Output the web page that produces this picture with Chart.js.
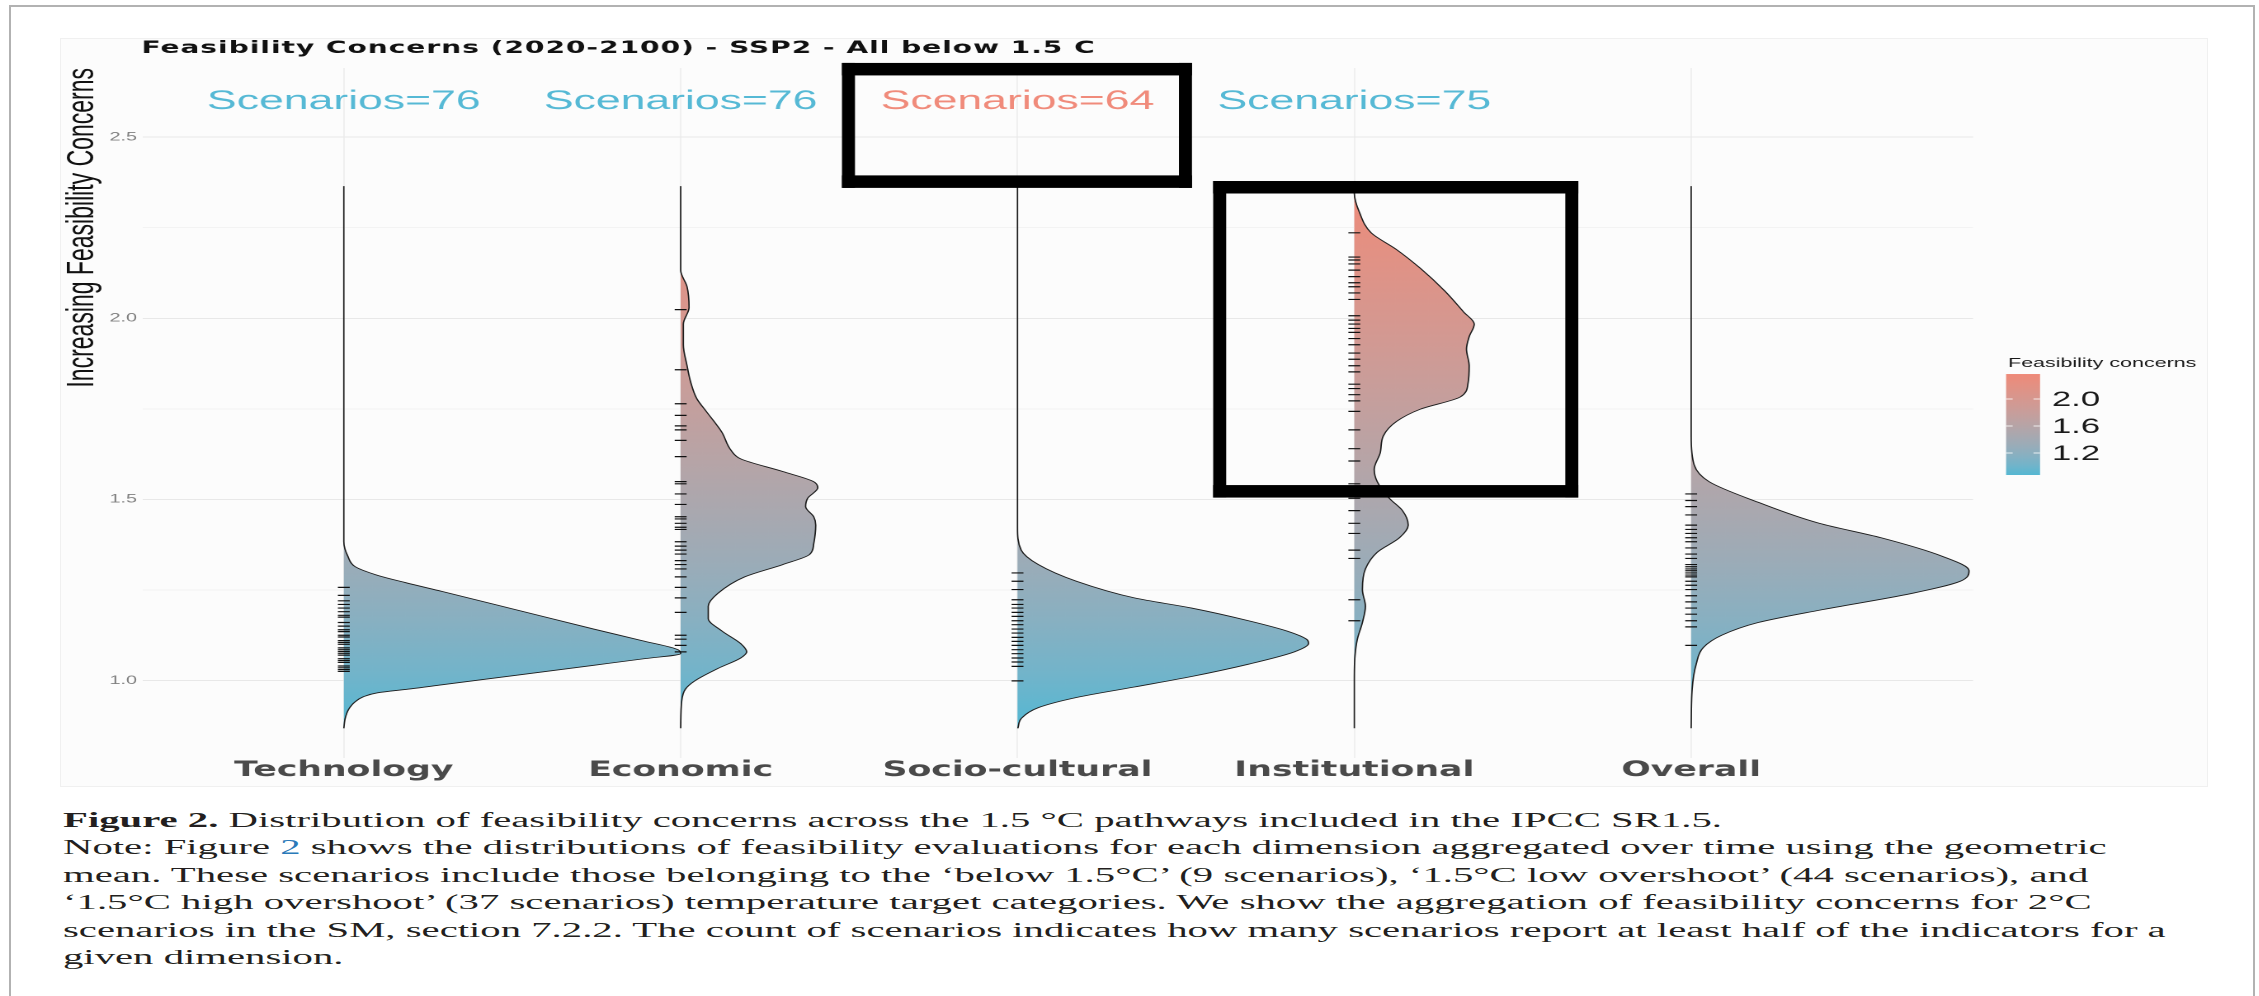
<!DOCTYPE html>
<html>
<head>
<meta charset="utf-8">
<script src="https://cdn.jsdelivr.net/npm/chart.js@4.4.0/dist/chart.umd.min.js"></script>
<style>
  html, body { margin: 0; padding: 0; background: #fff; }
  body { width: 2259px; height: 996px; position: relative; overflow: hidden; }
  #frame { position: absolute; left: 9px; top: 5px; width: 2246px; height: 1000px; border: 2px solid #b2b2b2; border-bottom: none; box-sizing: border-box; }
  #plotbg { position: absolute; left: 60px; top: 38px; width: 2148px; height: 749px; background: #fcfcfc; border: 1px solid #f0f0f0; box-sizing: border-box; }
  #chartWrap { position: absolute; left: 0; top: 0; width: 1369px; height: 800px; transform: scaleX(1.65); transform-origin: 0 0; }
  #caption { position: absolute; left: 63px; top: 807px; font-family: "Liberation Serif", serif; font-size: 21.6px; line-height: 27.4px; color: #231f20; transform-origin: 0 0; white-space: nowrap; }
  #caption .ref { color: #2a7ab9; }
</style>
</head>
<body>
<div id="frame"></div>
<div id="plotbg"></div>
<div id="chartWrap"><canvas id="violins"></canvas></div>
<div id="caption">
  <div><span id="capFirst"><b>Figure 2.</b> Distribution of feasibility concerns across the 1.5 °C pathways included in the IPCC SR1.5.</span></div>
  <div>Note: Figure <span class="ref">2</span> shows the distributions of feasibility evaluations for each dimension aggregated over time using the geometric</div>
  <div>mean. These scenarios include those belonging to the ‘below 1.5°C’ (9 scenarios), ‘1.5°C low overshoot’ (44 scenarios), and</div>
  <div>‘1.5°C high overshoot’ (37 scenarios) temperature target categories. We show the aggregation of feasibility concerns for 2°C</div>
  <div>scenarios in the SM, section 7.2.2. The count of scenarios indicates how many scenarios report at least half of the indicators for a</div>
  <div>given dimension.</div>
</div>
<script>
// the source figure is stretched sideways, so the chart is drawn narrow and scaled in x
const S = 1.65;

const titleText = "Feasibility Concerns (2020-2100) - SSP2 - All below 1.5 C";
const categories = ["Technology", "Economic", "Socio-cultural", "Institutional", "Overall"];
const scenarioCounts = [76, 76, 64, 75];
const yTickValues = [1.0, 1.25, 1.5, 1.75, 2.0, 2.25, 2.5];
const yLabelValues = [1.0, 1.5, 2.0, 2.5];
const legendTicks = [1.2, 1.6, 2.0];
const colorMin = 0.874;
const colorMax = 2.37;

// half-violin outlines: [level, width in category units]
const techDensity = [
  [0.868, 0], [0.895, 0.004], [0.920, 0.014], [0.940, 0.032], [0.955, 0.058], [0.966, 0.100],
  [0.977, 0.200], [0.988, 0.291], [1.015, 0.517], [1.042, 0.742], [1.060, 0.891], [1.074, 1.0],
  [1.085, 0.992], [1.110, 0.885], [1.142, 0.742], [1.194, 0.517], [1.246, 0.291], [1.270, 0.184],
  [1.291, 0.098], [1.314, 0.034], [1.343, 0.012], [1.383, 0], [2.365, 0]
];
const econDensity = [
  [0.868, 0], [0.942, 0.003], [0.976, 0.014], [0.999, 0.042], [1.033, 0.110], [1.062, 0.178],
  [1.079, 0.196], [1.102, 0.178], [1.137, 0.122], [1.171, 0.082], [1.205, 0.082], [1.240, 0.110],
  [1.286, 0.190], [1.320, 0.303], [1.348, 0.383], [1.377, 0.395], [1.429, 0.401], [1.452, 0.395],
  [1.480, 0.371], [1.503, 0.377], [1.532, 0.407], [1.549, 0.395], [1.577, 0.303], [1.612, 0.178],
  [1.635, 0.150], [1.686, 0.122], [1.743, 0.076], [1.778, 0.048], [1.823, 0.030], [1.869, 0.019],
  [1.927, 0.008], [1.984, 0.008], [2.030, 0.025], [2.087, 0.019], [2.133, 0], [2.365, 0]
];
const socioDensity = [
  [0.868, 0.001], [0.896, 0.012], [0.925, 0.062], [0.953, 0.175], [0.982, 0.347], [1.011, 0.517],
  [1.045, 0.686], [1.079, 0.822], [1.102, 0.864], [1.114, 0.858], [1.136, 0.802], [1.165, 0.686],
  [1.200, 0.517], [1.228, 0.347], [1.274, 0.175], [1.320, 0.062], [1.360, 0.011], [1.423, 0], [2.365, 0]
];
const instDensity = [
  [0.868, 0], [1.000, 0], [1.068, 0.002], [1.114, 0.009], [1.160, 0.024], [1.205, 0.033],
  [1.251, 0.024], [1.308, 0.033], [1.354, 0.068], [1.394, 0.134], [1.429, 0.160], [1.469, 0.143],
  [1.503, 0.104], [1.549, 0.068], [1.583, 0.059], [1.629, 0.077], [1.675, 0.086], [1.715, 0.125],
  [1.749, 0.196], [1.783, 0.315], [1.823, 0.338], [1.869, 0.341], [1.915, 0.333], [1.949, 0.341],
  [1.984, 0.356], [2.018, 0.324], [2.075, 0.269], [2.138, 0.196], [2.190, 0.125], [2.236, 0.050],
  [2.293, 0.015], [2.345, 0], [2.365, 0]
];
const overallDensity = [
  [0.868, 0], [0.976, 0.003], [1.045, 0.015], [1.091, 0.036], [1.125, 0.091], [1.160, 0.199],
  [1.194, 0.380], [1.240, 0.653], [1.274, 0.799], [1.303, 0.825], [1.343, 0.745], [1.394, 0.564],
  [1.434, 0.380], [1.492, 0.199], [1.549, 0.053], [1.595, 0.009], [1.675, 0], [2.365, 0]
];

// rug marks, one per scenario value
const techRug = [1.025, 1.03, 1.035, 1.04, 1.05, 1.055, 1.06, 1.07, 1.075, 1.08, 1.085, 1.09, 1.1, 1.105,
  1.11, 1.12, 1.125, 1.135, 1.14, 1.15, 1.16, 1.175, 1.18, 1.19, 1.2, 1.21, 1.22, 1.235, 1.257];
const econRug = [1.079, 1.097, 1.114, 1.125, 1.188, 1.228, 1.257, 1.286, 1.308, 1.32, 1.331, 1.349, 1.36,
  1.371, 1.383, 1.417, 1.423, 1.434, 1.446, 1.452, 1.486, 1.515, 1.543, 1.549, 1.618, 1.663, 1.692,
  1.703, 1.732, 1.764, 1.858, 2.024];
const socioRug = [0.999, 1.039, 1.051, 1.062, 1.074, 1.085, 1.097, 1.108, 1.119, 1.131, 1.142, 1.154,
  1.165, 1.177, 1.188, 1.2, 1.21, 1.223, 1.251, 1.274, 1.297];
const instRug = [1.165, 1.223, 1.337, 1.36, 1.406, 1.434, 1.469, 1.503, 1.543, 1.606, 1.64, 1.692, 1.743,
  1.772, 1.789, 1.806, 1.818, 1.852, 1.869, 1.887, 1.904, 1.927, 1.944, 1.961, 1.972, 1.984, 1.995,
  2.007, 2.052, 2.07, 2.087, 2.098, 2.115, 2.133, 2.15, 2.161, 2.169, 2.236];
const overallRug = [1.097, 1.148, 1.165, 1.183, 1.2, 1.217, 1.234, 1.251, 1.263, 1.274, 1.286, 1.291,
  1.297, 1.303, 1.308, 1.314, 1.32, 1.337, 1.349, 1.366, 1.383, 1.394, 1.406, 1.417, 1.429, 1.457,
  1.48, 1.497, 1.515];

const densities = [techDensity, econDensity, socioDensity, instDensity, overallDensity];
const rugs = [techRug, econRug, socioRug, instRug, overallRug];

// annotation boxes drawn over the figure (category units / concern level)
const highlightBoxes = [
  {x0: 2.479, x1: 3.518, y0: 2.705, y1: 2.360},
  {x0: 3.581, x1: 4.665, y0: 2.379, y1: 1.505}
];
const scenarioLabelLevel = 2.598;

const colorLow = "#55b8d3";
const colorHigh = "#ef8a79";
const scenarioColors = ["#56b9d5", "#56b9d5", "#f08b7b", "#56b9d5"];

// ggplot style gradient, interpolated in Lab
function toLin(c) { c /= 255; return c <= 0.04045 ? c / 12.92 : Math.pow((c + 0.055) / 1.055, 2.4); }
function fromLin(c) {
  c = c <= 0.0031308 ? 12.92 * c : 1.055 * Math.pow(c, 1 / 2.4) - 0.055;
  return Math.round(Math.max(0, Math.min(1, c)) * 255);
}
function hexToLab(h) {
  const [r, g, b] = [1, 3, 5].map(i => toLin(parseInt(h.substr(i, 2), 16)));
  const X = (0.4124 * r + 0.3576 * g + 0.1805 * b) / 0.95047;
  const Y = 0.2126 * r + 0.7152 * g + 0.0722 * b;
  const Z = (0.0193 * r + 0.1192 * g + 0.9505 * b) / 1.08883;
  const f = t => t > 0.008856 ? Math.cbrt(t) : 7.787 * t + 16 / 116;
  return [116 * f(Y) - 16, 500 * (f(X) - f(Y)), 200 * (f(Y) - f(Z))];
}
function labToCss([L, a, b]) {
  const fy = (L + 16) / 116, fx = fy + a / 500, fz = fy - b / 200;
  const inv = t => t * t * t > 0.008856 ? t * t * t : (t - 16 / 116) / 7.787;
  const X = inv(fx) * 0.95047, Y = inv(fy), Z = inv(fz) * 1.08883;
  const r = 3.2406 * X - 1.5372 * Y - 0.4986 * Z;
  const g = -0.9689 * X + 1.8758 * Y + 0.0415 * Z;
  const bl = 0.0557 * X - 0.2040 * Y + 1.0570 * Z;
  return "rgb(" + [r, g, bl].map(fromLin).join(",") + ")";
}
const labLow = hexToLab(colorLow), labHigh = hexToLab(colorHigh);
function makeGradient(ctx, yLow, yHigh) {
  const grad = ctx.createLinearGradient(0, yLow, 0, yHigh);
  for (let i = 0; i <= 10; i++) {
    const t = i / 10;
    grad.addColorStop(t, labToCss(labLow.map((v, k) => v + (labHigh[k] - v) * t)));
  }
  return grad;
}

function violinFill(context) {
  const chart = context.chart;
  const y = chart.scales.y;
  if (!chart.chartArea || !y) return colorLow;
  return makeGradient(chart.ctx, y.getPixelForValue(colorMin), y.getPixelForValue(colorMax));
}

const datasets = [];
rugs.forEach((r, i) => {
  datasets.push({
    data: r.map(v => ({x: i + 1, y: v})),
    showLine: false,
    fill: false,
    pointStyle: "line",
    pointRadius: 3.6,
    pointHoverRadius: 3.6,
    pointBorderWidth: 1.2,
    pointBorderColor: "#111",
    order: 0,
  });
});
densities.forEach((d, i) => {
  datasets.push({
    data: d.map(([lv, w]) => ({x: i + 1 + w, y: lv})),
    fill: {value: i + 1},
    backgroundColor: violinFill,
    borderColor: "#1c1c1c",
    borderWidth: 0.85,
    pointRadius: 0,
    cubicInterpolationMode: "monotone",
    order: 1,
  });
});

const overlay = {
  id: "overlay",
  afterDraw(chart) {
    const {ctx} = chart;
    const x = chart.scales.x, y = chart.scales.y;
    ctx.save();

    ctx.fillStyle = "#111";
    ctx.font = 'bold 17px "DejaVu Sans"';
    ctx.letterSpacing = "0.6px";
    ctx.textAlign = "left";
    ctx.textBaseline = "alphabetic";
    ctx.fillText(titleText, x.left - 1, 53);
    ctx.letterSpacing = "0px";

    ctx.font = '27px "Liberation Sans"';
    ctx.textAlign = "center";
    ctx.textBaseline = "middle";
    scenarioCounts.forEach((n, i) => {
      ctx.fillStyle = scenarioColors[i];
      ctx.fillText("Scenarios=" + n, x.getPixelForValue(i + 1), y.getPixelForValue(scenarioLabelLevel));
    });

    ctx.fillStyle = "#000";
    highlightBoxes.forEach(b => {
      const l = x.getPixelForValue(b.x0), r = x.getPixelForValue(b.x1);
      const t = y.getPixelForValue(b.y0), bt = y.getPixelForValue(b.y1);
      const vw = 13 / S, hw = 12.5;
      ctx.fillRect(l, t, r - l, hw);
      ctx.fillRect(l, bt - hw, r - l, hw);
      ctx.fillRect(l, t, vw, bt - t);
      ctx.fillRect(r - vw, t, vw, bt - t);
    });

    // colour bar legend
    const lx = 1215.8, lw = 20.6;
    const ly = v => 399 - (v - 2) * 67.5;
    ctx.fillStyle = makeGradient(ctx, ly(colorMin), ly(colorMax));
    ctx.fillRect(lx, ly(colorMax), lw, ly(colorMin) - ly(colorMax));
    ctx.strokeStyle = "rgba(255,255,255,0.8)";
    ctx.lineWidth = 1;
    legendTicks.forEach(v => {
      ctx.beginPath();
      ctx.moveTo(lx, ly(v)); ctx.lineTo(lx + 4, ly(v));
      ctx.moveTo(lx + lw - 4, ly(v)); ctx.lineTo(lx + lw, ly(v));
      ctx.stroke();
    });
    ctx.fillStyle = "#1a1a1a";
    ctx.textAlign = "left";
    ctx.textBaseline = "alphabetic";
    ctx.font = '13px "Liberation Sans"';
    ctx.fillText("Feasibility concerns", 1217, 367);
    ctx.font = '21px "Liberation Sans"';
    ctx.textBaseline = "middle";
    legendTicks.forEach(v => ctx.fillText(v.toFixed(1), 1243.6, ly(v) + 1));

    ctx.restore();
  }
};

new Chart(document.getElementById("violins"), {
  type: "line",
  data: {datasets: datasets},
  options: {
    indexAxis: "y",
    responsive: true,
    maintainAspectRatio: false,
    devicePixelRatio: 2,
    animation: false,
    events: [],
    layout: {padding: {left: 0, right: 173.2, top: 68, bottom: 0}},
    plugins: {legend: {display: false}, tooltip: {enabled: false}, title: {display: false}},
    scales: {
      x: {
        type: "linear",
        min: 0.404,
        max: 5.837,
        afterBuildTicks: s => { s.ticks = categories.map((c, i) => ({value: i + 1})); },
        afterFit: s => { s.height = 42; },
        grid: {color: "#ececec", lineWidth: 0.8, drawTicks: false},
        border: {display: false},
        ticks: {
          autoSkip: false,
          maxRotation: 0,
          padding: 0,
          color: "#4a4a4a",
          font: {family: "DejaVu Sans", size: 21, weight: "bold"},
          callback: (v, i) => categories[i],
        },
      },
      y: {
        type: "linear",
        min: 0.786,
        max: 2.691,
        afterBuildTicks: s => { s.ticks = yTickValues.map(v => ({value: v})); },
        afterFit: s => { s.width = 86.7; },
        grid: {
          color: c => (c.tick && yLabelValues.includes(c.tick.value)) ? "#e8e8e8" : "#f3f3f3",
          lineWidth: 1,
          drawTicks: false,
        },
        border: {display: false},
        ticks: {
          autoSkip: false,
          padding: 3.7,
          color: "#808080",
          font: {family: "Liberation Sans", size: 12},
          callback: v => yLabelValues.includes(v) ? v.toFixed(1) : "",
        },
        title: {
          display: true,
          text: "Increasing Feasibility Concerns",
          align: "end",
          color: "#111",
          font: {family: "Liberation Sans", size: 23},
          padding: {top: 36.5, bottom: 0},
        },
      },
    },
  },
  plugins: [overlay],
});

// caption is stretched the same way as the page it was cut from
function fitCaption() {
  const cap = document.getElementById("caption");
  cap.style.transform = "none";
  const w = document.getElementById("capFirst").getBoundingClientRect().width;
  cap.style.transform = "scaleX(" + (1659 / w) + ")";
}
fitCaption();
document.fonts.ready.then(fitCaption);
</script>
</body>
</html>
